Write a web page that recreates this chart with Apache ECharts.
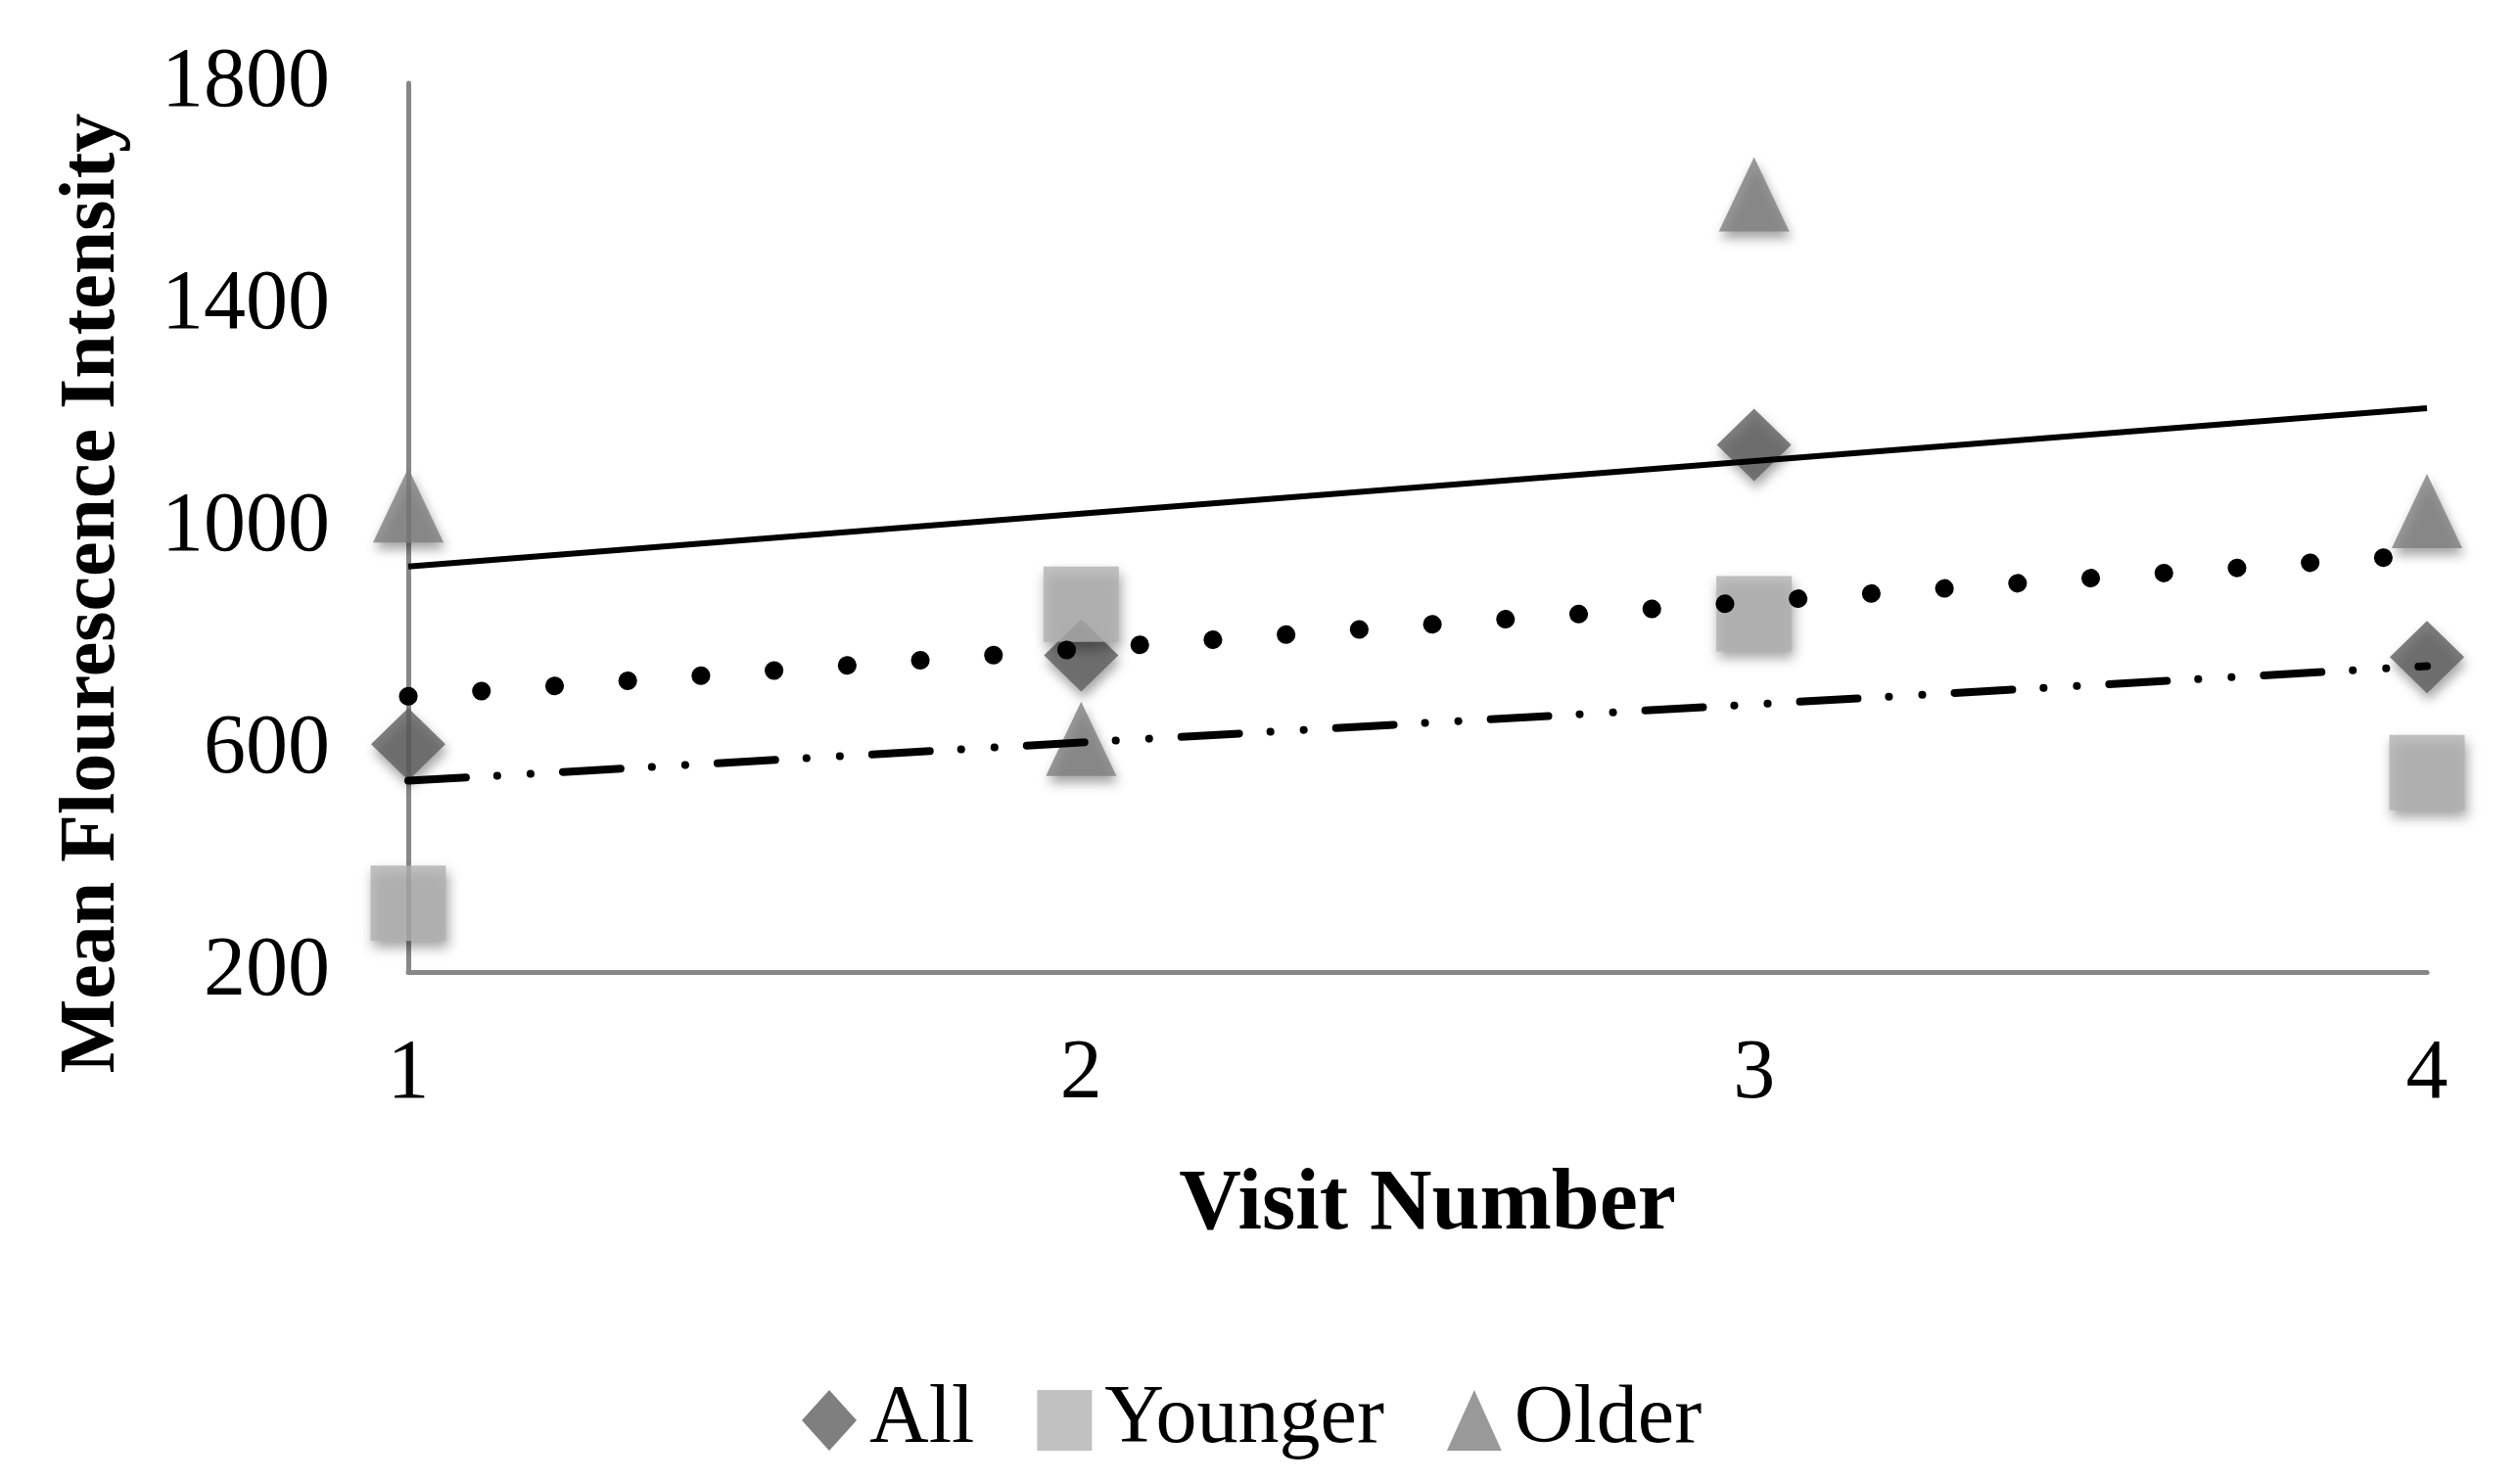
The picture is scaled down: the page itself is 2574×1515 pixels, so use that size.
<!DOCTYPE html>
<html>
<head>
<meta charset="utf-8">
<script src="https://cdn.jsdelivr.net/npm/echarts@6/dist/echarts.min.js"></script>
<style>html,body{margin:0;padding:0;background:#fff}#c{width:2574px;height:1515px}</style>
</head>
<body>
<div id="c"></div>
<script>
const visits = ['1', '2', '3', '4'];
const allValues = [610, 770, 1149, 767];
const youngerValues = [324, 862, 845, 559];
const olderValues = [1040, 620, 1600, 1030];
const yTicks = { min: 200, max: 1800, interval: 400 };

function trend(vals) {
  const n = vals.length;
  const xs = vals.map((_, i) => i + 1);
  const mx = xs.reduce((a, b) => a + b, 0) / n;
  const my = vals.reduce((a, b) => a + b, 0) / n;
  let sxy = 0, sxx = 0;
  for (let i = 0; i < n; i++) { sxy += (xs[i] - mx) * (vals[i] - my); sxx += (xs[i] - mx) ** 2; }
  const b = sxy / sxx, a = my - b * mx;
  return xs.map(x => a + b * x);
}

const font = '"Liberation Serif", "Times New Roman", serif';
const shadow = { shadowBlur: 12, shadowColor: 'rgba(0,0,0,0.45)', shadowOffsetX: 2, shadowOffsetY: 7 };

const chart = echarts.init(document.getElementById('c'), null, { renderer: 'canvas' });
chart.setOption({
  animation: false,
  backgroundColor: '#ffffff',
  grid: { left: 417, right: 95, top: 85, bottom: 522 },
  legend: {
    data: ['All', 'Younger', 'Older'],
    left: 814,
    top: 1404,
    itemWidth: 56,
    itemHeight: 62,
    itemGap: 64,
    textStyle: { fontFamily: font, fontSize: 84, color: '#000', padding: [0, 0, 0, 8] }
  },
  xAxis: {
    type: 'category',
    data: visits,
    boundaryGap: false,
    name: 'Visit Number',
    nameLocation: 'middle',
    nameGap: 195,
    nameTextStyle: { fontFamily: font, fontWeight: 'bold', fontSize: 88, color: '#000', padding: [0, 0, 0, 20] },
    axisLine: { lineStyle: { color: '#878787', width: 5 } },
    axisTick: { show: false },
    axisLabel: { fontFamily: font, fontSize: 86, color: '#000', margin: 62 },
    splitLine: { show: false }
  },
  yAxis: {
    type: 'value',
    min: yTicks.min, max: yTicks.max, interval: yTicks.interval,
    name: 'Mean Flourescence Intensity',
    nameLocation: 'middle',
    nameGap: 282,
    nameTextStyle: { fontFamily: font, fontWeight: 'bold', fontSize: 80, color: '#000', padding: [0, 134, 0, 0] },
    axisLine: { show: true, lineStyle: { color: '#878787', width: 5 } },
    axisTick: { show: false },
    axisLabel: { fontFamily: font, fontSize: 86, color: '#000', margin: 80, formatter: v => String(v) },
    splitLine: { show: false }
  },
  series: [
    { name: 'All', type: 'scatter', data: allValues, symbol: 'diamond', symbolSize: [76, 74], z: 2,
      itemStyle: Object.assign({ color: '#5f5f5f' }, shadow) },
    { name: 'Younger', type: 'scatter', data: youngerValues, symbol: 'rect', symbolSize: [77, 77], z: 2,
      itemStyle: Object.assign({ color: '#b2b2b2' }, shadow) },
    { name: 'Older', type: 'scatter', data: olderValues, symbol: 'triangle', symbolSize: [72, 76], z: 2,
      itemStyle: Object.assign({ color: '#808080' }, shadow) },
    { name: 'All trend', type: 'line', data: trend(allValues), symbol: 'none', z: 5, silent: true,
      lineStyle: { color: '#000', width: 19, type: [0.1, 74.8], cap: 'round' } },
    { name: 'Younger trend', type: 'line', data: trend(youngerValues), symbol: 'none', z: 5, silent: true,
      lineStyle: { color: '#000', width: 8, type: [59, 32, 0.1, 34, 0.1, 33], cap: 'round' } },
    { name: 'Older trend', type: 'line', data: trend(olderValues), symbol: 'none', z: 5, silent: true,
      lineStyle: { color: '#000', width: 6, type: 'solid' } }
  ]
});
</script>
</body>
</html>
